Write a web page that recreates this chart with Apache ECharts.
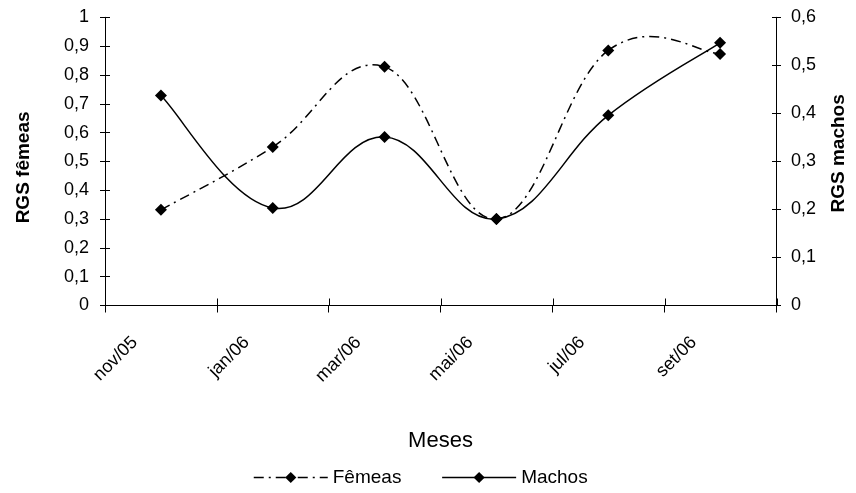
<!DOCTYPE html>
<html>
<head>
<meta charset="utf-8">
<script src="https://cdn.jsdelivr.net/npm/echarts@6/dist/echarts.min.js"></script>
<style>
html,body{margin:0;padding:0;background:#fff;}
#chart{width:856px;height:493px;}
</style>
</head>
<body>
<div id="chart"></div>
<script>
var categories = ['nov/05', 'jan/06', 'mar/06', 'mai/06', 'jul/06', 'set/06'];
var femeas = [0.332, 0.55, 0.828, 0.30, 0.885, 0.873];
var machos = [0.437, 0.203, 0.351, 0.18, 0.396, 0.547];
var leftTicks = {min: 0, max: 1, interval: 0.1};
var rightTicks = {min: 0, max: 0.6, interval: 0.1};

var FONT = '"Liberation Sans", Arial, sans-serif';
var fmt = function (v) { return String(Math.round(v * 10) / 10).replace('.', ','); };
var gridRect = {left: 105, right: 79, top: 17.3, bottom: 187.5};
var lineC = '#000';
var DASH = [10, 5, 2, 5];
var TENSION = 0.2;

// Smooth (Catmull-Rom style) segment from point i to i+1, through the axes' scales
function segmentRenderer(values, dash) {
  return function (params, api) {
    var i = params.dataIndex;
    if (i >= values.length - 1) return null;
    var pt = function (j) {
      j = Math.max(0, Math.min(values.length - 1, j));
      return api.coord([j, values[j]]);
    };
    var p0 = pt(i - 1), p1 = pt(i), p2 = pt(i + 1), p3 = pt(i + 2);
    var k = TENSION;
    return {
      type: 'bezierCurve',
      shape: {
        x1: p1[0], y1: p1[1], x2: p2[0], y2: p2[1],
        cpx1: p1[0] + (p2[0] - p0[0]) * k, cpy1: p1[1] + (p2[1] - p0[1]) * k,
        cpx2: p2[0] - (p3[0] - p1[0]) * k, cpy2: p2[1] - (p3[1] - p1[1]) * k
      },
      style: {stroke: '#000', fill: null, lineWidth: 1.5, lineDash: dash}
    };
  };
}

var chart = echarts.init(document.getElementById('chart'), null, {renderer: 'canvas'});
chart.setOption({
  animation: false,
  backgroundColor: '#fff',
  textStyle: {fontFamily: FONT, color: '#000'},
  grid: [
    Object.assign({}, gridRect),
    Object.assign({}, gridRect)
  ],
  legend: {
    data: [
      {name: 'Fêmeas', lineStyle: {color: '#000', width: 1.5, type: DASH}},
      {name: 'Machos', lineStyle: {color: '#000', width: 1.5, type: 'solid'}}
    ],
    left: 248,
    top: 463,
    itemWidth: 74,
    itemHeight: 14,
    itemGap: 40,
    textStyle: {fontFamily: FONT, fontSize: 19, color: '#000'}
  },
  xAxis: [{
    type: 'category',
    gridIndex: 0,
    data: categories,
    boundaryGap: true,
    name: 'Meses',
    nameLocation: 'middle',
    nameGap: 124,
    nameTextStyle: {fontFamily: FONT, fontSize: 22, color: '#000'},
    axisLine: {lineStyle: {color: lineC, width: 1}},
    axisTick: {show: true, length: 7, lineStyle: {color: lineC}},
    axisLabel: {
      interval: 0, rotate: 45, margin: 8,
      fontFamily: FONT, fontSize: 18, color: '#000',
      padding: [0, 37, 0, 0]
    }
  }, {
    type: 'category',
    gridIndex: 1,
    data: categories,
    boundaryGap: true,
    position: 'bottom',
    axisLine: {show: false},
    axisTick: {show: true, inside: true, length: 7, lineStyle: {color: lineC}},
    axisLabel: {show: false}
  }],
  yAxis: [{
    type: 'value',
    gridIndex: 0,
    position: 'left',
    min: leftTicks.min, max: leftTicks.max, interval: leftTicks.interval,
    name: 'RGS fêmeas',
    nameLocation: 'middle',
    nameRotate: 90,
    nameGap: 72,
    nameTextStyle: {fontFamily: FONT, fontSize: 19, fontWeight: 'bold', color: '#000', padding: [0, 12, 0, 0]},
    axisLine: {show: true, lineStyle: {color: lineC, width: 1}},
    axisTick: {show: true, length: 5, lineStyle: {color: lineC}},
    splitLine: {show: false},
    axisLabel: {formatter: fmt, margin: 16, fontFamily: FONT, fontSize: 18, color: '#000'}
  }, {
    type: 'value',
    gridIndex: 0,
    position: 'right',
    min: rightTicks.min, max: rightTicks.max, interval: rightTicks.interval,
    name: 'RGS machos',
    nameLocation: 'middle',
    nameRotate: 90,
    nameGap: 53,
    nameTextStyle: {fontFamily: FONT, fontSize: 19, fontWeight: 'bold', color: '#000', padding: [0, 0, 0, 16]},
    axisLine: {show: true, lineStyle: {color: lineC, width: 1}},
    axisTick: {show: true, length: 5, lineStyle: {color: lineC}},
    splitLine: {show: false},
    axisLabel: {formatter: fmt, margin: 15, fontFamily: FONT, fontSize: 18, color: '#000'}
  }, {
    type: 'value',
    gridIndex: 1,
    position: 'left',
    min: leftTicks.min, max: leftTicks.max, interval: leftTicks.interval,
    axisLine: {show: false},
    axisTick: {show: true, inside: true, length: 5, lineStyle: {color: lineC}},
    splitLine: {show: false},
    axisLabel: {show: false}
  }, {
    type: 'value',
    gridIndex: 1,
    position: 'right',
    min: rightTicks.min, max: rightTicks.max, interval: rightTicks.interval,
    axisLine: {show: false},
    axisTick: {show: true, inside: true, length: 5, lineStyle: {color: lineC}},
    splitLine: {show: false},
    axisLabel: {show: false}
  }],
  series: [{
    name: 'Fêmeas curve',
    type: 'custom',
    xAxisIndex: 0,
    yAxisIndex: 0,
    z: 2,
    silent: true,
    renderItem: segmentRenderer(femeas, DASH),
    data: femeas.map(function (v, i) { return [i, v]; })
  }, {
    name: 'Machos curve',
    type: 'custom',
    xAxisIndex: 0,
    yAxisIndex: 1,
    z: 2,
    silent: true,
    renderItem: segmentRenderer(machos, null),
    data: machos.map(function (v, i) { return [i, v]; })
  }, {
    name: 'Fêmeas',
    type: 'line',
    xAxisIndex: 0,
    yAxisIndex: 0,
    z: 3,
    data: femeas,
    symbol: 'diamond',
    symbolSize: 12,
    itemStyle: {color: '#000'},
    lineStyle: {color: 'rgba(0,0,0,0)', width: 1.5, type: DASH}
  }, {
    name: 'Machos',
    type: 'line',
    xAxisIndex: 0,
    yAxisIndex: 1,
    z: 3,
    data: machos,
    symbol: 'diamond',
    symbolSize: 12,
    itemStyle: {color: '#000'},
    lineStyle: {color: 'rgba(0,0,0,0)', width: 1.5}
  }]
});
</script>
</body>
</html>
